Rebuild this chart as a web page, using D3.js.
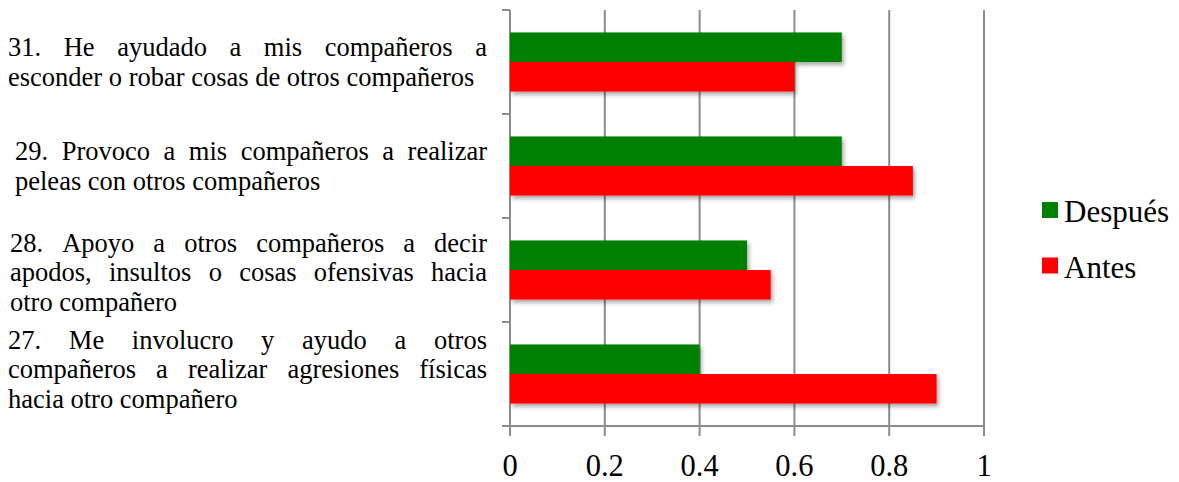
<!DOCTYPE html>
<html>
<head>
<meta charset="utf-8">
<script src="https://cdn.jsdelivr.net/npm/d3@7"></script>
<style>
  body { margin: 0; background: #fff; }
</style>
</head>
<body>
<svg id="barchart"></svg>
<script>
// categories from top to bottom, each one split in lines like the original
const categories = ["31", "29", "28", "27"];
const labelLines = [
  ["31. He ayudado a mis compañeros a", "esconder o robar cosas de otros compañeros"],
  ["29. Provoco a mis compañeros a realizar", "peleas con otros compañeros"],
  ["28. Apoyo a otros compañeros a decir", "apodos, insultos o cosas ofensivas  hacia", "otro compañero"],
  ["27. Me involucro y ayudo a otros", "compañeros a realizar agresiones físicas", "hacia otro compañero"]
];
const despues = [0.7, 0.7, 0.5, 0.4];
const antes = [0.6, 0.85, 0.55, 0.9];
const seriesNames = ["Después", "Antes"];
const seriesColors = ["#008000", "#ff0000"];
const xTicks = [0, 0.2, 0.4, 0.6, 0.8, 1];

const width = 1179, height = 482;
const plot = {left: 510, right: 984, top: 10, bottom: 426};
const serif = "'Liberation Serif', 'Times New Roman', 'DejaVu Serif', serif";

const svg = d3.select("#barchart")
  .attr("width", width)
  .attr("height", height)
  .attr("font-family", serif);

const defs = svg.append("defs");
defs.append("filter")
  .attr("id", "shadow")
  .attr("x", "-5%").attr("y", "-20%").attr("width", "115%").attr("height", "160%")
  .append("feDropShadow")
  .attr("dx", 2).attr("dy", 3).attr("stdDeviation", 2)
  .attr("flood-color", "#000").attr("flood-opacity", 0.35);

const x = d3.scaleLinear().domain([0, 1]).range([plot.left, plot.right]);
const y0 = d3.scaleBand().domain(categories).range([plot.top, plot.bottom]).padding(0);
const y1 = d3.scaleBand().domain(seriesNames).range([0, y0.bandwidth()]).paddingInner(0).paddingOuter(0.76);

const grey = "#8c8c8c";

// vertical grid lines
svg.append("g").selectAll("line").data(xTicks).enter()
  .append("line")
  .attr("x1", d => x(d)).attr("x2", d => x(d))
  .attr("y1", plot.top).attr("y2", plot.bottom + 10)
  .attr("stroke", grey).attr("stroke-width", 2);

// left axis ticks at category boundaries
const bounds = categories.map(c => y0(c)).concat([plot.bottom]);
svg.append("g").selectAll("line").data(bounds).enter()
  .append("line")
  .attr("x1", plot.left - 8).attr("x2", plot.left)
  .attr("y1", d => d).attr("y2", d => d)
  .attr("stroke", grey).attr("stroke-width", 2);

// bottom axis line
svg.append("line")
  .attr("x1", plot.left - 8).attr("x2", plot.right + 1)
  .attr("y1", plot.bottom).attr("y2", plot.bottom)
  .attr("stroke", grey).attr("stroke-width", 2);

// bars
const rows = categories.map((c, i) => ({cat: c, values: [despues[i], antes[i]]}));
const groups = svg.append("g").selectAll("g").data(rows).enter()
  .append("g")
  .attr("transform", d => "translate(0," + y0(d.cat) + ")");

groups.selectAll("rect")
  .data(d => d.values.map((v, j) => ({name: seriesNames[j], value: v, color: seriesColors[j]})))
  .enter()
  .append("rect")
  .attr("x", x(0))
  .attr("y", d => y1(d.name))
  .attr("width", d => x(d.value) - x(0))
  .attr("height", y1.bandwidth())
  .attr("fill", d => d.color)
  .attr("filter", "url(#shadow)");

// x tick labels
svg.append("g").selectAll("text").data(xTicks).enter()
  .append("text")
  .attr("x", d => x(d))
  .attr("y", 476)
  .attr("text-anchor", "middle")
  .attr("font-family", serif)
  .attr("font-size", 30.5)
  .text(d => d3.format("")(d));

// justified category labels
const lineH = 29.5;
const indent = {"31": 8, "29": 15, "28": 10, "27": 8};
const shift = {"31": 0, "29": 0, "28": 2, "27": -5};
const rightEdge = 487;
categories.forEach((c, i) => {
  const lines = labelLines[i];
  const center = y0(c) + y0.bandwidth() / 2;
  const first = center - (lines.length - 1) * lineH / 2 + 9 + shift[c];
  const left = indent[c];
  lines.forEach((ln, k) => {
    const words = ln.split(/\s+/);
    const by = first + k * lineH;
    const g = svg.append("g");
    const nodes = words.map(w => g.append("text")
      .attr("y", by)
      .attr("font-family", serif)
      .attr("font-size", 26.5)
      .text(w));
    const widths = nodes.map(n => n.node().getComputedTextLength());
    const total = d3.sum(widths);
    const last = k === lines.length - 1;
    const gap = last || words.length < 2 ? 6.6 : (rightEdge - left - total) / (words.length - 1);
    let cx = left;
    nodes.forEach((n, j) => {
      n.attr("x", cx);
      cx += widths[j] + gap;
    });
  });
});

// legend
const legend = svg.append("g").selectAll("g").data(seriesNames).enter()
  .append("g")
  .attr("transform", (d, i) => "translate(1042," + (202 + i * 55.5) + ")");
legend.append("rect")
  .attr("width", 16).attr("height", 16)
  .attr("fill", (d, i) => seriesColors[i]);
legend.append("text")
  .attr("x", 22).attr("y", 20)
  .attr("font-family", serif)
  .attr("font-size", 31)
  .text(d => d);
</script>
</body>
</html>
